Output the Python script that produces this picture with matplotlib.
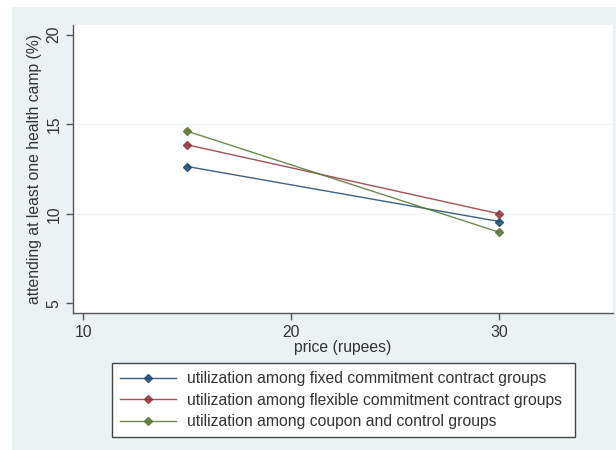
import matplotlib
matplotlib.use("Agg")
import matplotlib.pyplot as plt
from matplotlib.patches import Rectangle

# Data: share attending at least one health camp, by price
price = [15, 30]
fixed_commitment = [12.64, 9.57]
flexible_commitment = [13.85, 10.0]
coupon_control = [14.61, 8.97]

labels = [
    "utilization among fixed commitment contract groups",
    "utilization among flexible commitment contract groups",
    "utilization among coupon and control groups",
]
colors = ["#1a476f", "#90353b", "#55752f"]

x_ticks = [10, 20, 30]
y_ticks = [5, 10, 15, 20]

plt.rcParams["font.family"] = ["Liberation Sans", "DejaVu Sans"]
text_color = "#333333"
fs = 11.3

W, H = 616, 450
fig = plt.figure(figsize=(W / 100, H / 100), dpi=100)
fig.patch.set_facecolor("white")

# Light graph-region background
fig.patches.append(Rectangle((12 / W, 0), 1 - 12 / W, 1 - 7 / H,
                             transform=fig.transFigure, facecolor="#eaf2f3",
                             edgecolor="none", zorder=-10))

ax = fig.add_axes([72.7 / W, 1 - 312.7 / H, (612.7 - 72.7) / W, (312.7 - 25) / H])
ax.set_zorder(1)
ax.set_facecolor("white")

for series, color, label in zip([fixed_commitment, flexible_commitment, coupon_control], colors, labels):
    ax.plot(price, series, color=color, lw=1.0, alpha=0.85, marker="D",
            markersize=4, markerfacecolor=color, markeredgecolor=color, label=label)

ax.set_xlim(9.49, 35.45)
ax.set_ylim(4.48, 20.54)
ax.set_xticks(x_ticks)
ax.set_yticks(y_ticks)

# Horizontal grid only at inner ticks
for yv in y_ticks[1:-1]:
    ax.axhline(yv, color="#eef3f3", lw=1.0, zorder=0)

for side in ["top", "right"]:
    ax.spines[side].set_visible(False)
for side in ["left", "bottom"]:
    ax.spines[side].set_color("#555555")
    ax.spines[side].set_linewidth(1.0)

ax.tick_params(axis="both", colors="#555555", labelcolor=text_color, labelsize=fs,
               length=5, width=1.0, direction="out")
ax.tick_params(axis="x", pad=4)
ax.tick_params(axis="y", pad=3)
for lab in ax.get_yticklabels():
    lab.set_rotation(90)
    lab.set_va("center")

ax.set_xlabel("price (rupees)", fontsize=fs, color=text_color, labelpad=0)
ax.set_ylabel("attending at least one health camp (%)", fontsize=fs, color=text_color, labelpad=3)

leg = fig.legend(loc="upper left",
                 bbox_to_anchor=(111.7 / W, 1 - 363.3 / H, (575 - 111.7) / W, 0.0),
                 mode="expand", borderaxespad=0, frameon=True, fancybox=False,
                 fontsize=fs, handlelength=3.6, handletextpad=0.7,
                 labelspacing=0.42, borderpad=0.5, framealpha=1)
leg.get_frame().set_edgecolor("#444444")
leg.get_frame().set_facecolor("white")
leg.get_frame().set_linewidth(1.0)
for t in leg.get_texts():
    t.set_color(text_color)

fig.savefig("out.png", dpi=100)
